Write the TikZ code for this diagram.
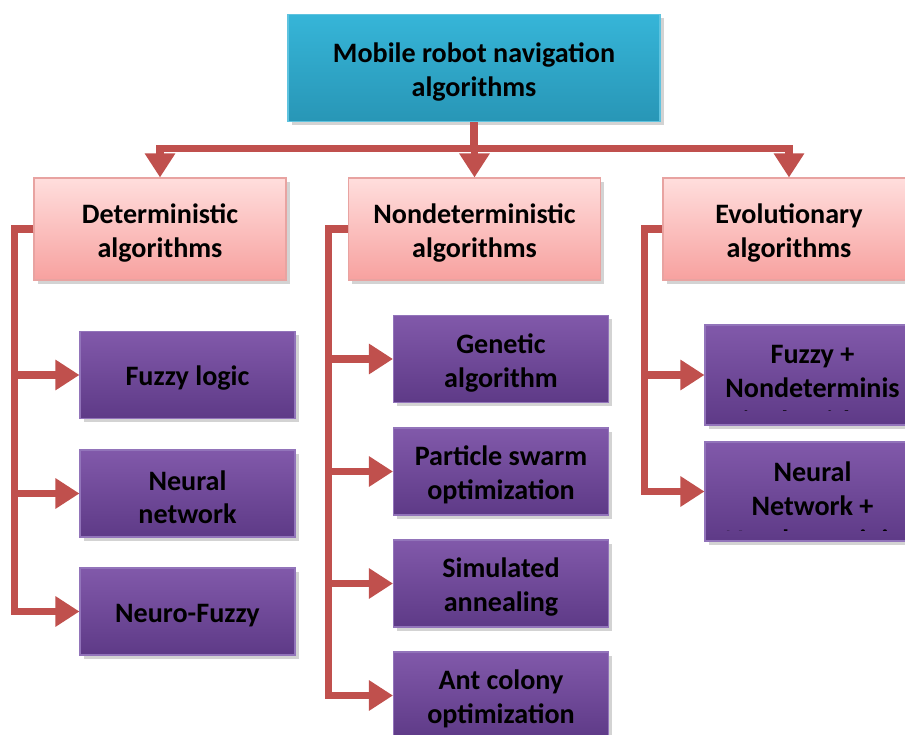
\documentclass[tikz,border=0pt]{standalone}
\usepackage{fontspec}
\setmainfont{Carlito}
\usetikzlibrary{positioning, arrows.meta, shadows}

\definecolor{roottop}{HTML}{36B5D8}
\definecolor{rootbot}{HTML}{2896B6}
\definecolor{rootline}{HTML}{5FC3DF}
\definecolor{grouptop}{HTML}{FFDEDD}
\definecolor{groupbot}{HTML}{F7A19F}
\definecolor{groupline}{HTML}{E8A3A1}
\definecolor{leaftop}{HTML}{8159AA}
\definecolor{leafbot}{HTML}{5E3A87}
\definecolor{leafline}{HTML}{9274BA}
\definecolor{linkred}{HTML}{C0504D}

\tikzset{
  boxshadow/.style={drop shadow={shadow xshift=2pt, shadow yshift=-2pt, opacity=0.35}},
  % struts push the text a little below the middle of its box
  twoline/.style={align=center, execute at begin node={\rule{0pt}{\dimexpr 0.97em+19.3pt\relax}}},
  oneline/.style={align=center, execute at begin node={\rule{0pt}{0.95em}}},
  rootbox/.style={rectangle, draw=rootline, line width=0.6pt, top color=roottop, bottom color=rootbot, boxshadow, twoline, minimum width=7.44cm, minimum height=2.14cm},
  groupbox/.style={rectangle, draw=groupline, line width=0.6pt, top color=grouptop, bottom color=groupbot, boxshadow, twoline, minimum width=5.04cm, minimum height=2.04cm},
  leafbase/.style={rectangle, draw=leafline, line width=0.6pt, top color=leaftop, bottom color=leafbot, boxshadow, minimum width=4.30cm, minimum height=1.74cm},
  leafbox/.style={leafbase, twoline},
  link/.style={draw=linkred, line width=4pt, -{Triangle[length=0.48cm, width=0.58cm]}},
  % text that runs out of its box is cut off a little above the bottom edge
  cuttext/.style 2 args={path picture={
    \clip (path picture bounding box.north west) rectangle ([yshift=-#1]path picture bounding box.north east);
    \node[anchor=north, align=center] at ([yshift=-0.27cm]path picture bounding box.north) {#2};}}
}

\begin{document}
\begin{tikzpicture}[font=\fontsize{16}{19.3}\bfseries\selectfont]
    \clip (0,0) rectangle (18.1,-14.7);
    \useasboundingbox (0,0) rectangle (18.1,-14.7);

    \node (root) [rootbox] at (9.48,-1.36) {Mobile robot navigation\\algorithms};

    \node (det) [groupbox] at (3.20,-4.58) {Deterministic\\algorithms};
    \node (nondet) [groupbox] at (9.49,-4.58) {Nondeterministic\\algorithms};
    \node (evo) [groupbox] at (15.78,-4.58) {Evolutionary\\algorithms};

    \node (fuzzy) [leafbase, oneline] at (3.75,-7.50) {Fuzzy logic};
    \node (neural) [leafbox] at (3.75,-9.87) {Neural\\network};
    \node (neurofuzzy) [leafbase, oneline] at (3.75,-12.23) {Neuro-Fuzzy};

    \node (genetic) [leafbox] at (10.02,-7.18) {Genetic\\algorithm};
    \node (pso) [leafbox] at (10.02,-9.43) {Particle swarm\\optimization};
    \node (annealing) [leafbox] at (10.02,-11.67) {Simulated\\annealing};
    \node (antcol) [leafbox] at (10.02,-13.91) {Ant colony\\optimization};

    \node (fuzzynd) [leafbase, minimum height=2.0cm, cuttext={1.71cm}{Fuzzy +\\Nondeterminis\\tic algorithms}] at (16.25,-7.50) {};
    \node (neuralnd) [leafbase, minimum height=1.98cm, cuttext={1.76cm}{Neural\\Network +\\Nondeterminis\\tic algorithms}] at (16.25,-9.83) {};

    \draw[link] (root.south) -- ++(0,-0.52) -| (det.north);
    \draw[link] (root.south) -- ++(0,-0.52) -| (nondet.north);
    \draw[link] (root.south) -- ++(0,-0.52) -| (evo.north);

    \draw[link] (det.west) -- ++(-0.38,0) |- (fuzzy.west);
    \draw[link] (det.west) -- ++(-0.38,0) |- (neural.west);
    \draw[link] (det.west) -- ++(-0.38,0) |- (neurofuzzy.west);

    \draw[link] (nondet.west) -- ++(-0.38,0) |- (genetic.west);
    \draw[link] (nondet.west) -- ++(-0.38,0) |- (pso.west);
    \draw[link] (nondet.west) -- ++(-0.38,0) |- (annealing.west);
    \draw[link] (nondet.west) -- ++(-0.38,0) |- (antcol.west);

    \draw[link] (evo.west) -- ++(-0.36,0) |- (fuzzynd.west);
    \draw[link] (evo.west) -- ++(-0.36,0) |- (neuralnd.west);
\end{tikzpicture}
\end{document}
